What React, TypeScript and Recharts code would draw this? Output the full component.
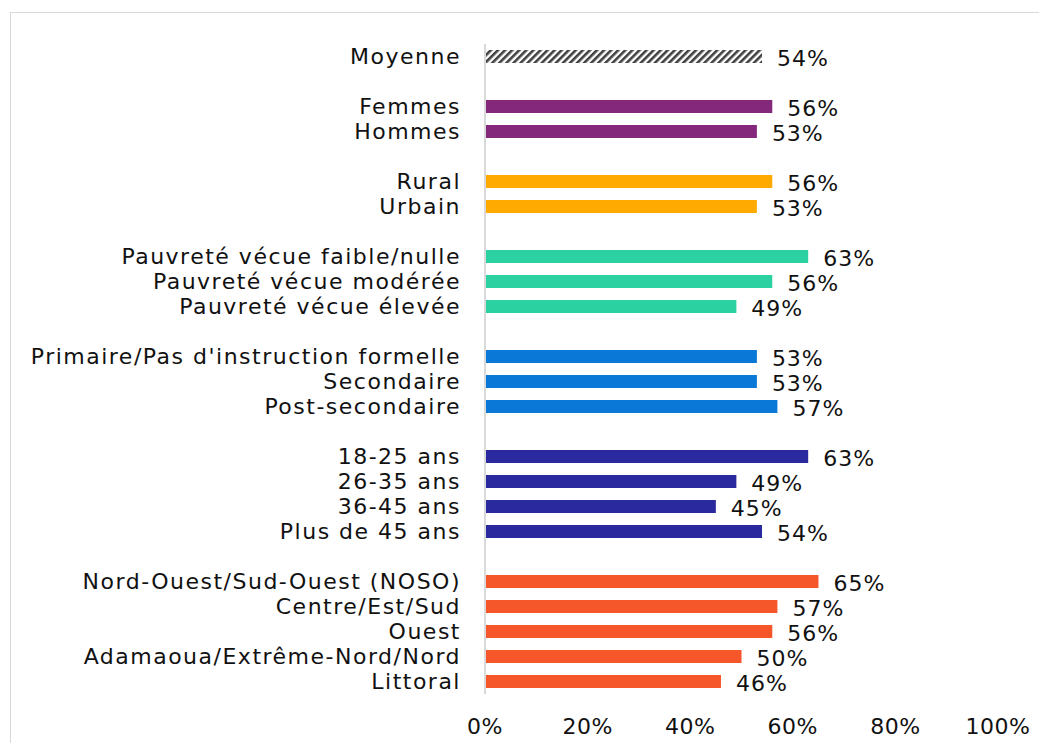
import { Bar, BarChart, Cell, LabelList, XAxis, YAxis } from "recharts";

// groups of rows, separated by an empty row in the chart
const groupLabels: string[][] = [
  ["Moyenne"],
  ["Femmes", "Hommes"],
  ["Rural", "Urbain"],
  ["Pauvreté vécue faible/nulle", "Pauvreté vécue modérée", "Pauvreté vécue élevée"],
  ["Primaire/Pas d'instruction formelle", "Secondaire", "Post-secondaire"],
  ["18-25 ans", "26-35 ans", "36-45 ans", "Plus de 45 ans"],
  [
    "Nord-Ouest/Sud-Ouest (NOSO)",
    "Centre/Est/Sud",
    "Ouest",
    "Adamaoua/Extrême-Nord/Nord",
    "Littoral",
  ],
];

const groupValues: number[][] = [
  [54],
  [56, 53],
  [56, 53],
  [63, 56, 49],
  [53, 53, 57],
  [63, 49, 45, 54],
  [65, 57, 56, 50, 46],
];

const groupColors = [
  "url(#hatch)",
  "#83287A",
  "#FFAA00",
  "#2BD1A0",
  "#0A78D7",
  "#2A2A9E",
  "#F5572B",
];

const xTicks = [0, 20, 40, 60, 80, 100];

type Row = { key: string; label: string; value: number | null; color: string };

const rows: Row[] = [];
groupLabels.forEach((labels, g) => {
  if (g > 0) rows.push({ key: `gap-${g}`, label: "", value: null, color: "none" });
  labels.forEach((label, i) => {
    rows.push({ key: `r-${g}-${i}`, label, value: groupValues[g][i], color: groupColors[g] });
  });
});

const labelById: Record<string, string> = Object.fromEntries(rows.map((r) => [r.key, r.label]));

const font = "'DejaVu Sans', sans-serif";

export default function App() {
  return (
    <div style={{ position: "relative", width: 1037, height: 735, overflow: "hidden", fontFamily: font }}>
      <div
        style={{
          position: "absolute",
          left: 2,
          top: 4,
          width: 1100,
          height: 800,
          borderTop: "1px solid #d9d9d9",
          borderLeft: "1px solid #d9d9d9",
        }}
      />
      <div style={{ position: "absolute", left: 0, top: 0 }}>
        <BarChart
          width={1035}
          height={735}
          data={rows}
          layout="vertical"
          margin={{ top: 36, right: 45, bottom: 0, left: 0 }}
          barSize={13}
        >
          <defs>
            <pattern id="hatch" width="5" height="5" patternUnits="userSpaceOnUse" patternTransform="rotate(45)">
              <rect width="5" height="5" fill="#ffffff" />
              <rect width="2.6" height="5" fill="#404040" />
            </pattern>
          </defs>
          <XAxis
            type="number"
            domain={[0, 100]}
            ticks={xTicks}
            tickFormatter={(v) => `${v}%`}
            axisLine={false}
            tickLine={false}
            tickMargin={18}
            height={49}
            tick={{ fill: "#111", fontSize: 22, fontFamily: font, letterSpacing: 0.5 }}
            interval={0}
          />
          <YAxis
            type="category"
            dataKey="key"
            width={477}
            tickFormatter={(k) => labelById[k] ?? ""}
            axisLine={{ stroke: "#d9d9d9", strokeWidth: 2 }}
            tickLine={false}
            tickSize={6}
            tickMargin={18}
            interval={0}
            tick={{ fill: "#111", fontSize: 22, fontFamily: font, letterSpacing: 1.5 }}
          />
          <Bar dataKey="value" isAnimationActive={false}>
            {rows.map((r) => (
              <Cell key={r.key} fill={r.color} />
            ))}
            <LabelList
              dataKey="value"
              position="right"
              offset={15}
              formatter={(v: any) => (v == null ? "" : `${v}%`)}
              style={{ fill: "#111", fontSize: 22, fontFamily: font, letterSpacing: 1 }}
              dy={2}
            />
          </Bar>
        </BarChart>
      </div>
    </div>
  );
}
